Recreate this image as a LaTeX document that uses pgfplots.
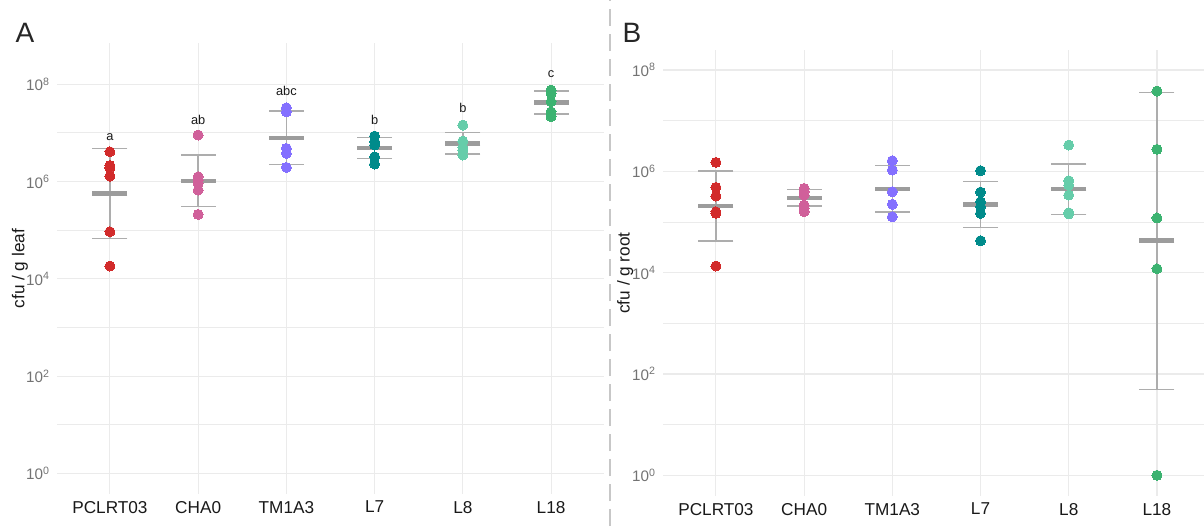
\documentclass[border=0pt]{standalone}
\usepackage{pgfplots}
\pgfplotsset{compat=1.18}
\usepackage{fontspec}
\setmainfont{Liberation Sans}
\definecolor{cR}{HTML}{D22B2B}
\definecolor{cP}{HTML}{D0609A}
\definecolor{cV}{HTML}{8470FF}
\definecolor{cT}{HTML}{008B8B}
\definecolor{cA}{HTML}{66CDAA}
\definecolor{cG}{HTML}{3CB371}
\definecolor{meanc}{HTML}{9C9C9C}
\definecolor{errc}{HTML}{ADADAD}
\definecolor{gridc}{HTML}{EBEBEB}
\newcommand\tp[1]{10\textsuperscript{#1}}
\pgfplotsset{
  mypanel/.style={
    scale only axis, clip=false,
    axis line style={draw=none}, major tick length=0pt, minor tick length=0pt,
    xmin=0.4,
    xtick={1,2,3,4,5,6},
    xticklabels={PCLRT03,CHA0,TM1A3,L7,L8,L18},
    ytick={1,1e2,1e4,1e6,1e8},
    minor ytick={10,1e3,1e5,1e7},
    yticklabels={\tp{0},\tp{2},\tp{4},\tp{6},\tp{8}},
    grid=both,
    major grid style={draw=gridc, line width=0.55pt},
    minor grid style={draw=gridc, line width=0.45pt},
    xticklabel style={font=\fontsize{8.6}{10}\selectfont, text=black!90},
    yticklabel style={font=\fontsize{7.6}{9}\selectfont, text=black!55},
    ylabel style={font=\fontsize{8.6}{10}\selectfont, text=black!90, anchor=center},
  },
  errbar/.style={errc, line width=0.7pt, unbounded coords=jump},
  caps/.style={only marks, color=errc, mark=-, mark size=8.75pt, mark options={solid, draw=errc, line width=0.6pt}},
  means/.style={only marks, color=meanc, mark=-, mark size=8.75pt, mark options={solid, draw=meanc, line width=2.2pt}},
  pts/.style={only marks, color=#1, mark=*, mark size=2.5pt, mark options={solid, fill=#1, draw=#1, line width=0pt}},
}
\begin{document}
\begin{tikzpicture}
\useasboundingbox (0,0) rectangle (602pt,263pt);
\draw[black!22, line width=0.9pt, dash pattern=on 8.5pt off 4pt] (305pt,0pt) -- (305pt,263pt);
\node[font=\fontsize{14}{16}\selectfont, text=black!85] at (12.5pt,246.5pt) {A};
\node[font=\fontsize{14}{16}\selectfont, text=black!85] at (316pt,246.5pt) {B};

% ---------------- Panel A ----------------
\begin{axis}[ymode=log, mypanel, at={(28.5pt,16pt)}, anchor=south west,
  width=273.5pt, height=225.35pt, xmax=6.6,
  ymin=0.3793, ymax=6.95e8,
  ylabel={cfu / g leaf},
  ylabel style={at={(axis description cs:-0.068,0.5)}}]
\addplot[errbar] coordinates {
 (1,6.82e4) (1,4.82e6) (1,nan)
 (2,3.04e5) (2,3.51e6) (2,nan)
 (3,2.26e6) (3,2.82e7) (3,nan)
 (4,3.00e6) (4,8.11e6) (4,nan)
 (5,3.68e6) (5,1.01e7) (5,nan)
 (6,2.44e7) (6,7.26e7)};
\addplot[caps] coordinates {
 (1,6.82e4) (1,4.82e6) (2,3.04e5) (2,3.51e6) (3,2.26e6) (3,2.82e7)
 (4,3.00e6) (4,8.11e6) (5,3.68e6) (5,1.01e7) (6,2.44e7) (6,7.26e7)};
\addplot[means] coordinates {
 (1,5.73e5) (2,1.04e6) (3,7.96e6) (4,4.97e6) (5,6.11e6) (6,4.25e7)};
\addplot[pts=cR] coordinates {(1,4.10e6) (1,2.14e6) (1,1.91e6) (1,1.30e6) (1,9.31e4) (1,1.84e4)};
\addplot[pts=cP] coordinates {(2,9.06e6) (2,1.26e6) (2,1.05e6) (2,9.2e5) (2,6.7e5) (2,2.12e5)};
\addplot[pts=cV] coordinates {(3,3.29e7) (3,2.72e7) (3,4.82e6) (3,3.80e6) (3,1.96e6)};
\addplot[pts=cT] coordinates {(4,8.63e6) (4,6.61e6) (4,5.64e6) (4,3.24e6) (4,2.29e6)};
\addplot[pts=cA] coordinates {(5,1.45e7) (5,6.81e6) (5,5.0e6) (5,4.45e6) (5,3.51e6)};
\addplot[pts=cG] coordinates {(6,7.60e7) (6,6.46e7) (6,4.38e7) (6,2.72e7) (6,2.15e7)};
\node[font=\fontsize{6.4}{7}\selectfont, text=black!90] at (axis cs:1,8.11e6) {a};
\node[font=\fontsize{6.4}{7}\selectfont, text=black!90] at (axis cs:2,1.84e7) {ab};
\node[font=\fontsize{6.4}{7}\selectfont, text=black!90] at (axis cs:3,7.36e7) {abc};
\node[font=\fontsize{6.4}{7}\selectfont, text=black!90] at (axis cs:4,1.84e7) {b};
\node[font=\fontsize{6.4}{7}\selectfont, text=black!90] at (axis cs:5,3.29e7) {b};
\node[font=\fontsize{6.4}{7}\selectfont, text=black!90] at (axis cs:6,1.62e8) {c};
\end{axis}

% ---------------- Panel B ----------------
\begin{axis}[ymode=log, mypanel, at={(331.5pt,15pt)}, anchor=south west,
  width=270.35pt, height=223pt, xmax=6.53,
  ymin=0.390, ymax=2.477e8,
  ylabel={cfu / g root},
  ylabel style={at={(axis description cs:-0.070,0.5)}}]
\addplot[errbar] coordinates {
 (1,4.21e4) (1,1.01e6) (1,nan)
 (2,2.07e5) (2,4.41e5) (2,nan)
 (3,1.57e5) (3,1.29e6) (3,nan)
 (4,7.83e4) (4,6.34e5) (4,nan)
 (5,1.42e5) (5,1.39e6) (5,nan)
 (6,49.8) (6,3.62e7)};
\addplot[caps] coordinates {
 (1,4.21e4) (1,1.01e6) (2,2.07e5) (2,4.41e5) (3,1.57e5) (3,1.29e6)
 (4,7.83e4) (4,6.34e5) (5,1.42e5) (5,1.39e6) (6,49.8) (6,3.62e7)};
\addplot[means] coordinates {
 (1,2.07e5) (2,3.01e5) (3,4.53e5) (4,2.23e5) (5,4.47e5) (6,4.27e4)};
\addplot[pts=cR] coordinates {(1,1.50e6) (1,4.83e5) (1,3.25e5) (1,1.59e5) (1,1.48e5) (1,1.35e4)};
\addplot[pts=cP] coordinates {(2,4.61e5) (2,3.95e5) (2,3.40e5) (2,2.16e5) (2,1.86e5) (2,1.59e5)};
\addplot[pts=cV] coordinates {(3,1.62e6) (3,1.06e6) (3,3.95e5) (3,2.23e5) (3,1.27e5)};
\addplot[pts=cT] coordinates {(4,1.03e6) (4,3.90e5) (4,2.51e5) (4,2.00e5) (4,1.48e5) (4,4.27e4)};
\addplot[pts=cA] coordinates {(5,3.30e6) (5,6.52e5) (5,5.36e5) (5,3.40e5) (5,1.52e5) (5,1.44e5)};
\addplot[pts=cG] coordinates {(6,3.84e7) (6,2.72e6) (6,1.20e5) (6,1.19e4) (6,1)};
\end{axis}
\end{tikzpicture}
\end{document}
